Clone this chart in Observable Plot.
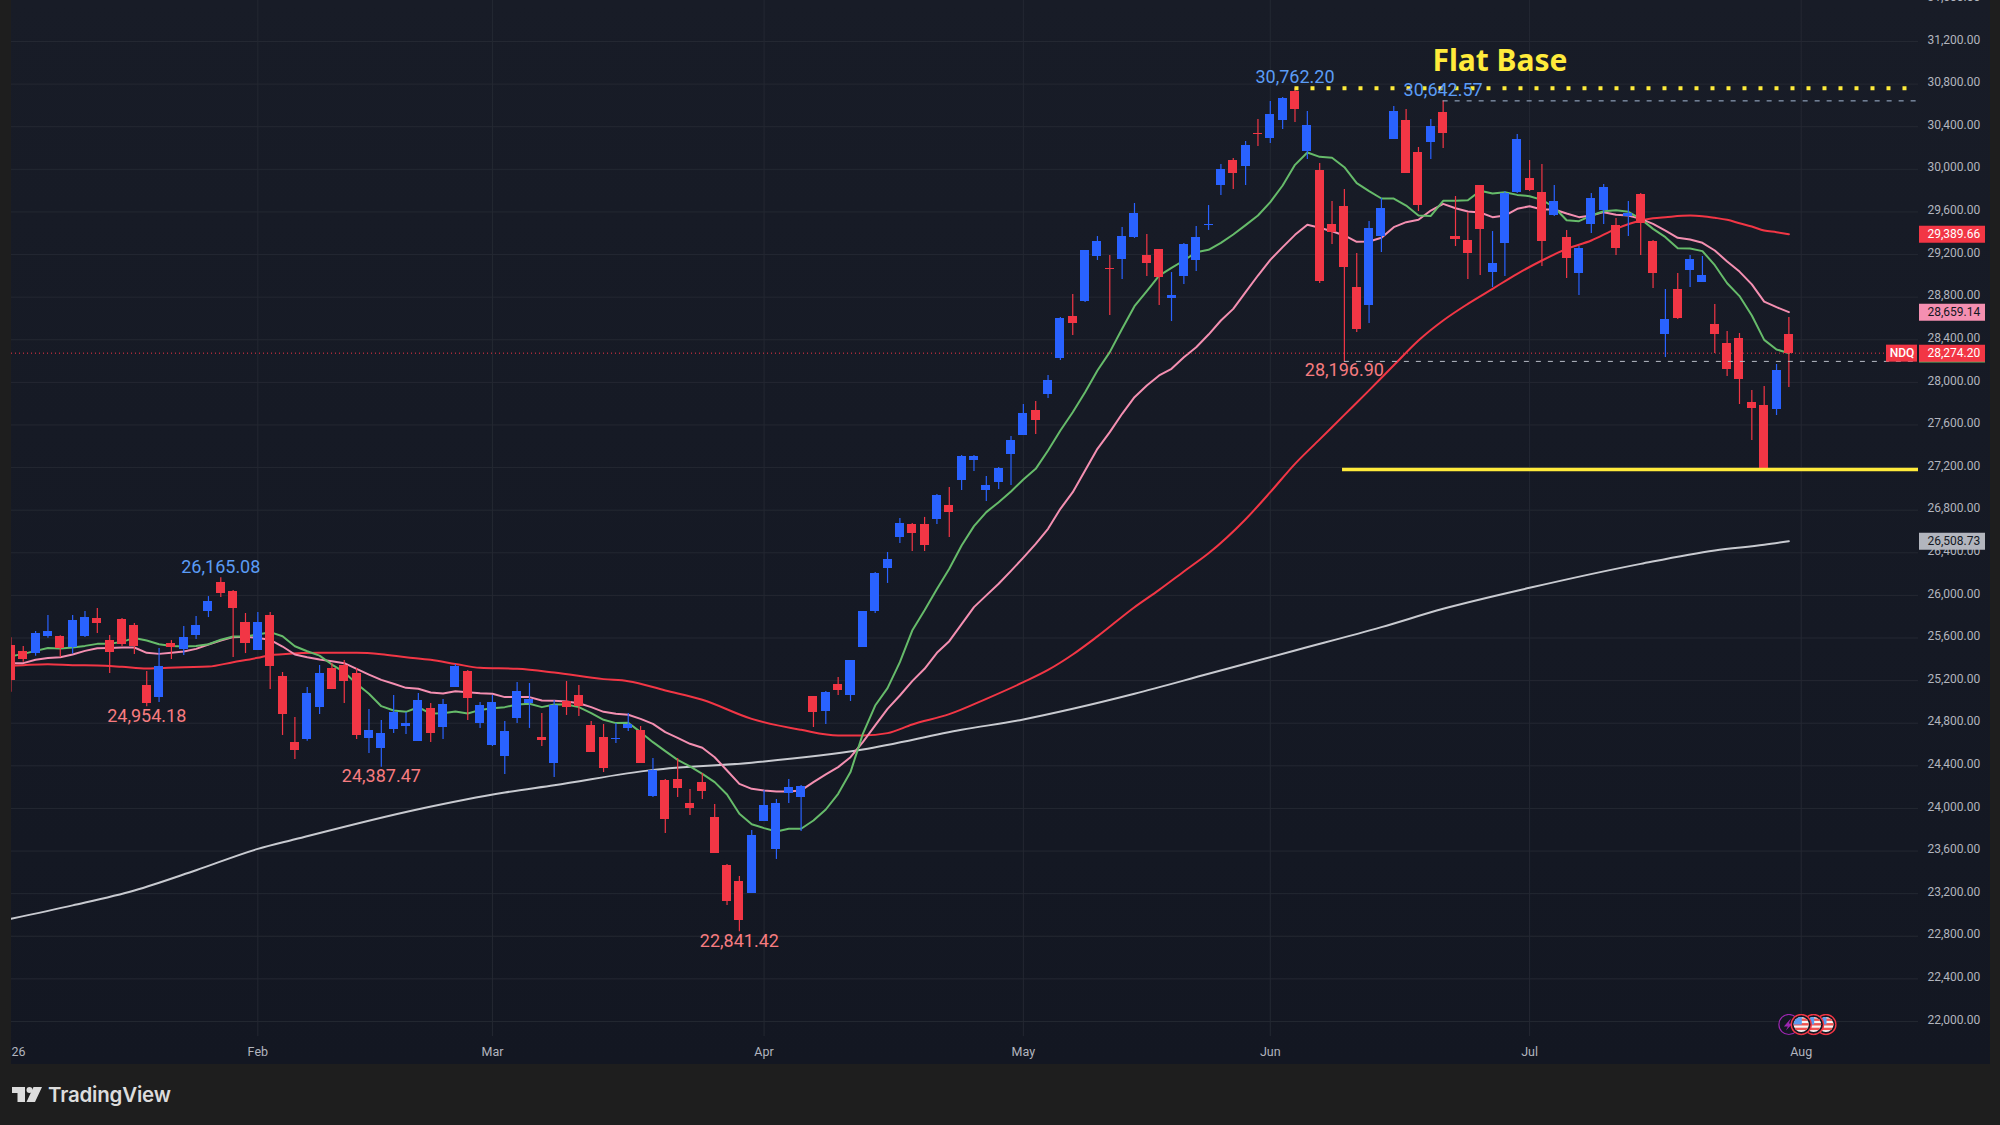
<!DOCTYPE html>
<html><head><meta charset="utf-8">
<script src="https://cdn.jsdelivr.net/npm/d3@7"></script>
<script src="https://cdn.jsdelivr.net/npm/@observablehq/plot@0.6"></script>
<style>
html,body{margin:0;padding:0;background:#1e1e1e;overflow:hidden;width:2000px;height:1125px}
#chart svg{display:block}
#foot{position:relative;height:61px}
#foot svg{position:absolute;left:12px;top:23px}
#foot span{position:absolute;left:48px;top:18px;font:600 20.5px Inter,sans-serif;color:#dcdcdc;letter-spacing:-.2px}
</style></head><body>
<div id="chart"></div>
<div id="foot"><svg width="31" height="15" viewBox="0 0 31 15"><path d="M0 0H13V15H5.5V6H0Z M21.5 0L30 0L23 15H14.5Z" fill="#dcdcdc"/><circle cx="17.5" cy="3" r="3" fill="#dcdcdc"/></svg><span>TradingView</span></div>
<script>
const opens=[25530,25473,25454,25614,25614,25511,25614,25783,25576,25773,25717,25154,25041,25548,25492,25623,25849,26121,26036,25745,25482,25811,25238,24619,24647,24947,25313,25342,25267,24656,24562,24741,24769,24628,24938,24760,25135,25285,24797,24591,24488,24844,24982,24666,24422,25007,25060,24779,24666,24647,24751,24732,24112,24262,24272,24046,24244,23915,23464,23314,23202,23878,23615,24140,24103,25051,24910,25164,25060,25511,25849,26252,26544,26666,26666,26713,26844,27079,27267,26985,27060,27323,27501,27736,27886,28224,28618,28759,29182,29069,29153,29360,29191,29247,28787,28994,29144,29476,29848,30083,30027,30336,30289,30458,30731,30167,29989,29482,29651,28890,28721,29369,30280,30458,30158,30252,30533,29369,29332,29848,29031,29304,29782,29914,29782,29566,29360,29022,29482,29613,29472,29557,29763,29322,28449,28872,29050,28938,28543,28365,28412,27811,27783,27745,28449];
const highs=[25602,25520,25661,25811,25620,25811,25849,25877,25623,25783,25736,25285,25501,25576,25708,25802,25989,26165.08,26046,25830,25839,25839,25276,24854,25135,25342,25360,25389,25313,24929,24825,25060,24900,25079,24985,25022,25351,25295,24994,25060,24816,25182,25173,24891,25013,25192,25154,24816,24788,24797,24891,24769,24469,24272,24469,24178,24328,24037,23474,23361,23793,24169,24084,24272,24216,25051,25098,25229,25389,25849,26215,26403,26722,26675,26732,26947,27013,27314,27314,27116,27201,27492,27792,27820,28065,28609,28825,29238,29369,29191,29454,29679,29388,29247,29031,29304,29463,29660,30045,30102,30261,30468,30637,30674,30762.2,30543,30054,29698,29810,29210,29510,29726,30590,30561,30205,30468,30642.57,29745,29595,29848,29416,29792,30327,30083,30045,29848,29426,29275,29773,29857,29538,29698,29773,29332,28872,29022,29191,29182,28731,28478,28459,27924,27961,28168,28609];
const lows=[25091,25373,25429,25598,25417,25451,25604,25642,25267,25520,25445,24954.18,24994,25398,25435,25586,25792,25980,25417,25454,25482,25116,24685,24459,24631,24882,25116,24985,24647,24516,24387.47,24703,24694,24628,24619,24647,25135,24825,24750,24581,24319,24798,24751,24582,24291,24873,24863,24525,24337,24610,24722,24422,24103,23765,24103,23934,24084,23577,23089,22841.42,23202,23878,23521,24046,23784,24760,24788,25060,25004,25511,25830,26112,26487,26412,26412,26666,26544,26985,27163,26882,26994,27032,27501,27511,27849,28205,28440,28750,29144,28628,28966,29351,28994,28722,28571,28919,29041,29426,29754,29811,29848,30214,30242,30374,30440,30092,28928,29294,28196.9,28468,28553,29219,30280,29961,29604,30092,30195,29275,28966,29003,28890,28994,29773,29792,29088,29557,28975,28815,29397,29482,29191,29369,29191,28881,28233,28590,28890,28938,28271,28055,27792,27454,27182,27689,27952];
const closes=[25204,25398,25642,25661,25504,25764,25792,25736,25464,25539,25520,24985,25332,25511,25604,25717,25942,26018,25877,25548,25745,25332,24882,24544,25079,25267,25116,25191,24685,24731,24703,24900,24797,25013,24703,24976,25332,25032,24966,24994,24722,25098,25023,24638,24966,24948,24957,24525,24375,24657,24788,24422,24356,23896,24187,23999,24159,23577,23127,22948,23746,24028,24046,24197,24206,24901,25088,25107,25389,25849,26206,26337,26675,26581,26469,26938,26778,27304,27304,27032,27192,27454,27708,27642,28018,28600,28553,29238,29322,29060,29369,29585,29116,28984,28815,29294,29360,29486,30000,29961,30224,30327,30515,30665,30562,30411,28947,29407,29078,28496,29444,29632,30543,29961,29660,30402,30336,29341,29210,29435,29116,29773,30280,29801,29322,29698,29163,29257,29726,29829,29257,29585,29491,29022,28590,28599,29153,29003,28449,28121,28027,27755,27182,28111,28274.2];

const ema10=[25429,25451,25479,25507,25501,25511,25526,25545,25545,25564,25601,25576,25542,25526,25520,25526,25542,25583,25614,25614,25633,25655,25617,25523,25476,25435,25351,25279,25170,25076,24960,24919,24907,24950,24891,24894,24910,24891,24925,24941,24951,24976,24982,24951,24976,24976,24951,24894,24832,24801,24804,24716,24622,24538,24456,24394,24325,24247,24131,23950,23852,23815,23784,23809,23809,23887,23990,24137,24341,24700,24966,25129,25373,25670,25860,26060,26250,26469,26650,26782,26875,26976,27088,27188,27360,27548,27720,27908,28111,28284,28503,28715,28856,29003,29075,29144,29222,29244,29310,29388,29476,29567,29692,29848,30042,30158,30117,30108,30020,29870,29795,29726,29726,29660,29566,29563,29704,29704,29710,29798,29773,29785,29760,29748,29713,29644,29522,29513,29566,29607,29616,29601,29535,29441,29363,29260,29257,29232,29100,28930,28810,28628,28399,28309,28274];
const ema20=[25364,25364,25395,25413,25420,25445,25479,25504,25507,25511,25511,25461,25451,25461,25473,25498,25539,25576,25608,25611,25601,25583,25520,25445,25420,25398,25382,25364,25310,25257,25207,25170,25132,25123,25088,25079,25101,25091,25082,25076,25045,25045,25045,25013,25010,25004,24988,24951,24907,24888,24879,24841,24794,24716,24663,24607,24569,24481,24356,24231,24184,24169,24159,24159,24169,24247,24319,24388,24481,24622,24779,24935,25060,25195,25311,25461,25570,25730,25890,26000,26110,26230,26355,26484,26625,26813,26969,27173,27376,27533,27705,27861,27971,28065,28127,28236,28330,28449,28581,28690,28847,29003,29150,29270,29385,29479,29451,29419,29379,29319,29322,29357,29457,29504,29526,29613,29676,29635,29604,29595,29551,29566,29629,29654,29623,29623,29585,29551,29566,29598,29573,29566,29535,29488,29425,29357,29341,29310,29238,29135,29040,28920,28758,28706,28659.14];

const ema50Index=[0,1,3,5,7,9,11,12,14,16,18,20,21,22,25,28,30,32,34,36,38,41,44,48,50,53,56,60,64,67,69,71,73,76,79,82,84,86,88,91,93,95,97,100,102,104,106,108,110,112,114,116,118,120,122,124,126,128,130,132,133,134,136,137,138,139,140,141,142,143,144];
const ema50=[25339,25345,25354,25345,25342,25329,25313,25317,25326,25332,25373,25414,25439,25448,25461,25461,25448,25420,25395,25357,25320,25311,25276,25214,25195,25107,25020,24841,24738,24685,24685,24707,24788,24885,25029,25185,25300,25445,25615,25889,26052,26225,26395,26715,26969,27235,27465,27695,27925,28160,28393,28581,28737,28878,29019,29144,29253,29332,29441,29519,29541,29551,29566,29560,29545,29526,29494,29463,29426,29410,29389.66];
const ema200Index=[0,5,10,15,20,23,33,40,44,52,60,69,77,82,86,91,97,104,111,116,123,132,138,142,144];
const ema200=[22964,23090,23230,23420,23620,23710,23993,24150,24218,24362,24430,24553,24738,24835,24935,25076,25264,25483,25702,25874,26071,26296,26422,26475,26508.73];

const priceTicks=d3.range(22000,31601,400);
const monthIndex=[20,39,61,82,102,123,145];
const monthLabels=["Feb","Mar","Apr","May","Jun","Jul","Aug"];

const peakIndex=[17,104,116];
const peakValues=[26165.08,30762.20,30642.57];
const troughIndex=[11,30,59,108];
const troughValues=[24954.18,24387.47,22841.42,28196.90];

const flatBaseTop=30762.20, flatBaseStart=104;
const resist=30642.57, resistStart=116;
const support=28196.90, supportStart=108;
const floorLevel=27182, floorStart=107.85;
const paneEnd=154.5;
const lastClose=28274.20;

const bars=opens.map((o,i)=>({i,o,h:highs[i],l:lows[i],c:closes[i]}));
const UP="#2962FF",DOWN="#F23645",GRID="#242832",AX="#b2b5be";
const fmt=d3.format(",.2f");
const FONT="Roboto, sans-serif";

const flagSvg=`<svg xmlns='http://www.w3.org/2000/svg' width='66' height='66' viewBox='0 0 22 22'><defs><clipPath id='c'><circle cx='11' cy='11' r='7.6'/></clipPath></defs><circle cx='11' cy='11' r='10' fill='#131722' stroke='#F23645' stroke-width='1.4'/><g clip-path='url(#c)'><rect width='22' height='22' fill='#f5f5f5'/><rect y='5' width='22' height='2.4' fill='#ef5350'/><rect y='9.6' width='22' height='2.4' fill='#ef5350'/><rect y='14.2' width='22' height='2.4' fill='#ef5350'/><rect x='3' y='3' width='8.6' height='8' fill='#5a9cf0'/></g></svg>`;
const boltSvg=`<svg xmlns='http://www.w3.org/2000/svg' width='66' height='66' viewBox='0 0 22 22'><circle cx='11' cy='11' r='10' fill='#131722' stroke='#9c27b0' stroke-width='1.2'/><path d='M13 5L6 13H10L8 17L15 10H11Z' fill='#9c27b0'/></svg>`;
const uri=s=>"data:image/svg+xml,"+encodeURIComponent(s);
const eventIndex=[144,147,146,145];
const eventSrc=[boltSvg,flagSvg,flagSvg,flagSvg].map(uri);

const tag=(v,fill,left=1908,right=5)=>Plot.ruleY([v],{y:d=>d,stroke:fill,strokeWidth:17,insetLeft:left,insetRight:right});
const tagText=(v,fill,weight=400)=>Plot.text([v],{y:d=>d,text:d=>fmt(d),frameAnchor:"right",dx:-63,textAnchor:"start",fill,fontSize:12,fontWeight:weight,fontFamily:FONT});

const chart=Plot.plot({
  width:2000,height:1064,
  marginLeft:11,marginRight:10,marginTop:0,marginBottom:0,
  style:{background:"linear-gradient(#181c27,#131722) 11px 0/1979px 1064px no-repeat",fontFamily:FONT},
  x:{type:"linear",domain:[0.0486,160.33],axis:null},
  y:{type:"linear",domain:[21596,31585],axis:null},
  marks:[
    Plot.ruleY(priceTicks,{stroke:GRID,strokeWidth:1,insetRight:72,clip:true}),
    Plot.ruleX(monthIndex,{stroke:GRID,strokeWidth:1,insetBottom:28,clip:true}),

    Plot.line(ema200,{x:(d,i)=>ema200Index[i],y:d=>d,stroke:"#c8cad0",strokeWidth:2,curve:"monotone-x",clip:true}),
    Plot.line(ema50,{x:(d,i)=>ema50Index[i],y:d=>d,stroke:"#F23645",strokeWidth:2,curve:"monotone-x",clip:true}),
    Plot.line(ema20,{x:(d,i)=>i,y:d=>d,stroke:"#F48FB1",strokeWidth:2,clip:true}),
    Plot.line(ema10,{x:(d,i)=>i,y:d=>d,stroke:"#66BB6A",strokeWidth:2,clip:true}),

    Plot.ruleY([lastClose],{stroke:"#F23645",strokeWidth:1,strokeDasharray:"1,3",insetRight:72,clip:true}),
    Plot.ruleX(bars,{x:"i",y1:"l",y2:"h",stroke:d=>d.c>=d.o?UP:DOWN,strokeWidth:1.2,clip:true}),
    Plot.rect(bars,{x1:d=>d.i-0.365,x2:d=>d.i+0.365,y1:"o",y2:"c",fill:d=>d.c>=d.o?UP:DOWN,shapeRendering:"crispEdges",clip:true}),

    Plot.ruleY([floorLevel],{x1:floorStart,x2:paneEnd,stroke:"#FFEB3B",strokeWidth:3.6}),
    Plot.ruleY([flatBaseTop],{x1:flatBaseStart,x2:paneEnd,stroke:"#FFEB3B",strokeWidth:4,strokeDasharray:"4,12"}),
    Plot.ruleY([resist],{x1:resistStart,x2:paneEnd,stroke:"#a6bad6",strokeWidth:1,strokeDasharray:"5,7"}),
    Plot.ruleY([support],{x1:supportStart,x2:paneEnd,stroke:"#b8bcc6",strokeWidth:1,strokeDasharray:"5,7"}),

    Plot.text(peakValues,{x:(d,i)=>peakIndex[i],y:d=>d,text:d=>fmt(d),dy:-10.5,fill:"#5b9cf6",fontSize:18,fontFamily:FONT}),
    Plot.text(troughValues,{x:(d,i)=>troughIndex[i],y:d=>d,text:d=>fmt(d),dy:9,fill:"#f77c80",fontSize:18,fontFamily:FONT}),
    Plot.text(["Flat Base"],{x:120.6,y:31018,text:d=>d,fill:"#FFEB3B",fontSize:30,fontWeight:700,fontFamily:"'Noto Sans',sans-serif"}),

    Plot.axisY({anchor:"right",ticks:priceTicks,tickSize:0,tickPadding:0,dx:-63,dy:-1.7,textAnchor:"start",tickFormat:fmt,fill:AX,fontSize:12,fontFamily:FONT,label:null}),
    Plot.axisX({anchor:"bottom",ticks:monthIndex,tickSize:0,tickPadding:0,dy:-17.5,tickFormat:d=>monthLabels[monthIndex.indexOf(d)],fill:AX,fontSize:12.5,fontFamily:FONT,label:null}),
    Plot.axisX({anchor:"bottom",ticks:[0],tickSize:0,tickPadding:0,dy:-17.5,dx:0.5,textAnchor:"start",tickFormat:()=>"26",fill:AX,fontSize:12.5,fontFamily:FONT,label:null}),

    tag(28266,"#66BB6A"),
    tag(ema200[ema200.length-1],"#b2b5be"),tagText(ema200[ema200.length-1],"#131722"),
    tag(ema50[ema50.length-1],"#F23645"),tagText(ema50[ema50.length-1],"#fff"),
    tag(ema20[ema20.length-1],"#F48FB1"),tagText(ema20[ema20.length-1],"#131722"),
    tag(lastClose,"#F23645"),tagText(lastClose,"#fff"),
    tag(lastClose,"#F23645",1875,73),
    Plot.text(["NDQ"],{y:lastClose,text:d=>d,frameAnchor:"right",dx:-88.5,textAnchor:"middle",fill:"#fff",fontSize:12,fontWeight:500,fontFamily:FONT}),

    Plot.image(eventSrc,{x:(d,i)=>eventIndex[i],src:d=>d,width:22,height:22,frameAnchor:"bottom",dy:-40})
  ]
});
document.getElementById("chart").appendChild(chart);
</script></body></html>
